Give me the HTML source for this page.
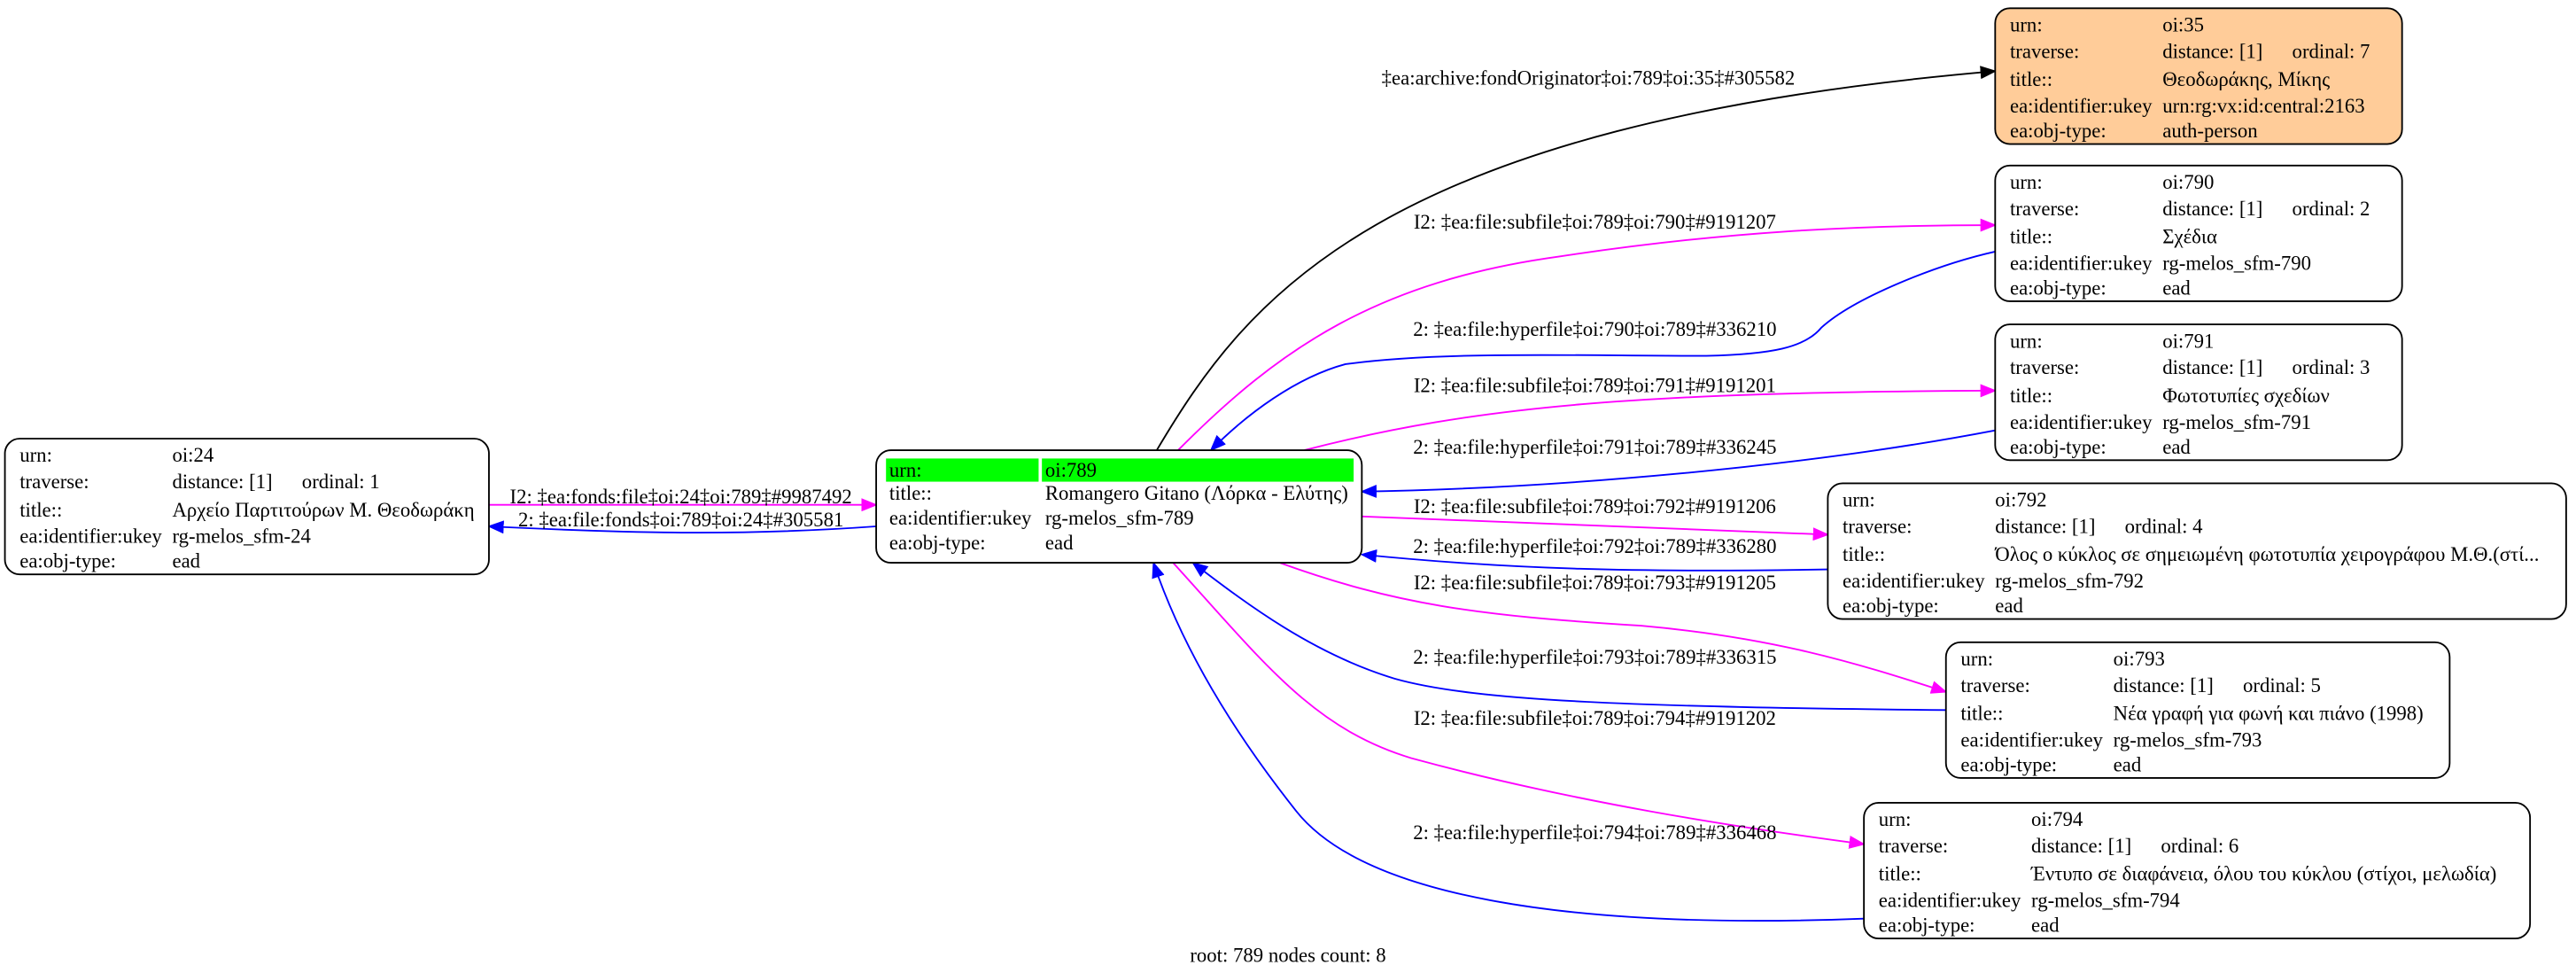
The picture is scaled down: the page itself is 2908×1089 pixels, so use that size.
<!DOCTYPE html>
<html><head><meta charset="utf-8"><style>
html,body{margin:0;padding:0;background:#fff;}
svg{display:block;}
text{font-family:"Liberation Serif","DejaVu Serif",serif;font-size:12.3px;fill:#000;}
</style></head><body>
<svg width="2908" height="1089" viewBox="0 0 1570 583" preserveAspectRatio="none" xmlns="http://www.w3.org/2000/svg">
<defs>
<marker id="ak" markerWidth="10" markerHeight="8" refX="9" refY="4" orient="auto" markerUnits="userSpaceOnUse"><path d="M0,0 L10,4 L0,8 z" fill="#000"/></marker>
<marker id="am" markerWidth="10" markerHeight="8" refX="9" refY="4" orient="auto" markerUnits="userSpaceOnUse"><path d="M0,0 L10,4 L0,8 z" fill="#ff00ff"/></marker>
<marker id="ab" markerWidth="10" markerHeight="8" refX="9" refY="4" orient="auto" markerUnits="userSpaceOnUse"><path d="M0,0 L10,4 L0,8 z" fill="#0000ff"/></marker>
</defs>
<g fill="none" stroke-width="1">
<path d="M705,272 C760,180 840,75 1216,43" stroke="#000" marker-end="url(#ak)"/>
<path d="M718,272 C780,210 840,170 950,155 C1050,140 1130,136 1216,136" stroke="#ff00ff" marker-end="url(#am)"/>
<path d="M1216,152 C1180,160 1130,180 1110,198 C1100,210 1080,214 1040,215 C960,215 880,212 820,220 C790,228 760,250 738,272" stroke="#0000ff" marker-end="url(#ab)"/>
<path d="M795,272 C900,245 1000,237 1216,236" stroke="#ff00ff" marker-end="url(#am)"/>
<path d="M1216,260 C1100,282 950,295 830,297" stroke="#0000ff" marker-end="url(#ab)"/>
<path d="M830,312 L1114,323" stroke="#ff00ff" marker-end="url(#am)"/>
<path d="M1114,344 C1000,346 920,344 830,335" stroke="#0000ff" marker-end="url(#ab)"/>
<path d="M780,340 C850,365 900,372 1000,378 C1080,385 1130,400 1186,418" stroke="#ff00ff" marker-end="url(#am)"/>
<path d="M1186,429 C1000,427 900,424 850,410 C800,395 760,365 727,340" stroke="#0000ff" marker-end="url(#ab)"/>
<path d="M715,340 C770,400 800,440 860,458 C960,485 1060,500 1136,510" stroke="#ff00ff" marker-end="url(#am)"/>
<path d="M1136,555 C950,562 830,540 790,490 C750,440 720,390 703,340" stroke="#0000ff" marker-end="url(#ab)"/>
<path d="M298,305 L534,305" stroke="#ff00ff" marker-end="url(#am)"/>
<path d="M534,318 C450,324 380,322 298,318" stroke="#0000ff" marker-end="url(#ab)"/>
</g>
<g text-anchor="middle">
<text x="968" y="51">‡ea:archive:fondOriginator‡oi:789‡oi:35‡#305582</text>
<text x="972" y="138">I2: ‡ea:file:subfile‡oi:789‡oi:790‡#9191207</text>
<text x="972" y="203">2: ‡ea:file:hyperfile‡oi:790‡oi:789‡#336210</text>
<text x="972" y="237">I2: ‡ea:file:subfile‡oi:789‡oi:791‡#9191201</text>
<text x="972" y="274">2: ‡ea:file:hyperfile‡oi:791‡oi:789‡#336245</text>
<text x="972" y="310">I2: ‡ea:file:subfile‡oi:789‡oi:792‡#9191206</text>
<text x="972" y="334">2: ‡ea:file:hyperfile‡oi:792‡oi:789‡#336280</text>
<text x="972" y="356">I2: ‡ea:file:subfile‡oi:789‡oi:793‡#9191205</text>
<text x="972" y="401">2: ‡ea:file:hyperfile‡oi:793‡oi:789‡#336315</text>
<text x="972" y="438">I2: ‡ea:file:subfile‡oi:789‡oi:794‡#9191202</text>
<text x="972" y="507">2: ‡ea:file:hyperfile‡oi:794‡oi:789‡#336468</text>
<text x="415" y="304">I2: ‡ea:fonds:file‡oi:24‡oi:789‡#9987492</text>
<text x="415" y="318">2: ‡ea:file:fonds‡oi:789‡oi:24‡#305581</text>
<text x="785" y="581">root: 789 nodes count: 8</text>
</g>
<g stroke="#000" stroke-width="1">
<rect x="1216" y="5" width="248" height="82" rx="9" fill="#ffcc99"/>
<rect x="1216" y="100" width="248" height="82" rx="9" fill="#fff"/>
<rect x="1216" y="196" width="248" height="82" rx="9" fill="#fff"/>
<rect x="1114" y="292" width="450" height="82" rx="9" fill="#fff"/>
<rect x="1186" y="388" width="307" height="82" rx="9" fill="#fff"/>
<rect x="1136" y="485" width="406" height="82" rx="9" fill="#fff"/>
<rect x="3" y="265" width="295" height="82" rx="9" fill="#fff"/>
<rect x="534" y="272" width="296" height="68" rx="9" fill="#fff"/>
</g>
<rect x="540" y="277" width="93" height="14" fill="#00ff00"/>
<rect x="635" y="277" width="190" height="14" fill="#00ff00"/>
<g><text x="1225" y="19">urn:</text><text x="1318" y="19">oi:35</text>
<text x="1225" y="35">traverse:</text><text x="1318" y="35">distance: [1]</text><text x="1397" y="35">ordinal: 7</text>
<text x="1225" y="52">title::</text><text x="1318" y="52">Θεοδωράκης, Μίκης</text>
<text x="1225" y="68">ea:identifier:ukey</text><text x="1318" y="68">urn:rg:vx:id:central:2163</text>
<text x="1225" y="83">ea:obj-type:</text><text x="1318" y="83">auth-person</text></g>
<g transform="translate(0,95)"><text x="1225" y="19">urn:</text><text x="1318" y="19">oi:790</text>
<text x="1225" y="35">traverse:</text><text x="1318" y="35">distance: [1]</text><text x="1397" y="35">ordinal: 2</text>
<text x="1225" y="52">title::</text><text x="1318" y="52">Σχέδια</text>
<text x="1225" y="68">ea:identifier:ukey</text><text x="1318" y="68">rg-melos_sfm-790</text>
<text x="1225" y="83">ea:obj-type:</text><text x="1318" y="83">ead</text></g>
<g transform="translate(0,191)"><text x="1225" y="19">urn:</text><text x="1318" y="19">oi:791</text>
<text x="1225" y="35">traverse:</text><text x="1318" y="35">distance: [1]</text><text x="1397" y="35">ordinal: 3</text>
<text x="1225" y="52">title::</text><text x="1318" y="52">Φωτοτυπίες σχεδίων</text>
<text x="1225" y="68">ea:identifier:ukey</text><text x="1318" y="68">rg-melos_sfm-791</text>
<text x="1225" y="83">ea:obj-type:</text><text x="1318" y="83">ead</text></g>
<g transform="translate(-102,287)"><text x="1225" y="19">urn:</text><text x="1318" y="19">oi:792</text>
<text x="1225" y="35">traverse:</text><text x="1318" y="35">distance: [1]</text><text x="1397" y="35">ordinal: 4</text>
<text x="1225" y="52">title::</text><text x="1318" y="52">Όλος ο κύκλος σε σημειωμένη φωτοτυπία χειρογράφου Μ.Θ.(στί...</text>
<text x="1225" y="68">ea:identifier:ukey</text><text x="1318" y="68">rg-melos_sfm-792</text>
<text x="1225" y="83">ea:obj-type:</text><text x="1318" y="83">ead</text></g>
<g transform="translate(-30,383)"><text x="1225" y="19">urn:</text><text x="1318" y="19">oi:793</text>
<text x="1225" y="35">traverse:</text><text x="1318" y="35">distance: [1]</text><text x="1397" y="35">ordinal: 5</text>
<text x="1225" y="52">title::</text><text x="1318" y="52">Νέα γραφή για φωνή και πιάνο (1998)</text>
<text x="1225" y="68">ea:identifier:ukey</text><text x="1318" y="68">rg-melos_sfm-793</text>
<text x="1225" y="83">ea:obj-type:</text><text x="1318" y="83">ead</text></g>
<g transform="translate(-80,480)"><text x="1225" y="19">urn:</text><text x="1318" y="19">oi:794</text>
<text x="1225" y="35">traverse:</text><text x="1318" y="35">distance: [1]</text><text x="1397" y="35">ordinal: 6</text>
<text x="1225" y="52">title::</text><text x="1318" y="52">Έντυπο σε διαφάνεια, όλου του κύκλου (στίχοι, μελωδία)</text>
<text x="1225" y="68">ea:identifier:ukey</text><text x="1318" y="68">rg-melos_sfm-794</text>
<text x="1225" y="83">ea:obj-type:</text><text x="1318" y="83">ead</text></g>
<g transform="translate(-1213,260)"><text x="1225" y="19">urn:</text><text x="1318" y="19">oi:24</text>
<text x="1225" y="35">traverse:</text><text x="1318" y="35">distance: [1]</text><text x="1397" y="35">ordinal: 1</text>
<text x="1225" y="52">title::</text><text x="1318" y="52">Αρχείο Παρτιτούρων Μ. Θεοδωράκη</text>
<text x="1225" y="68">ea:identifier:ukey</text><text x="1318" y="68">rg-melos_sfm-24</text>
<text x="1225" y="83">ea:obj-type:</text><text x="1318" y="83">ead</text></g>
<g><text x="542" y="288">urn:</text><text x="637" y="288">oi:789</text>
<text x="542" y="302">title::</text><text x="637" y="302">Romangero Gitano (Λόρκα - Ελύτης)</text>
<text x="542" y="317">ea:identifier:ukey</text><text x="637" y="317">rg-melos_sfm-789</text>
<text x="542" y="332">ea:obj-type:</text><text x="637" y="332">ead</text></g>
</svg>
</body></html>
